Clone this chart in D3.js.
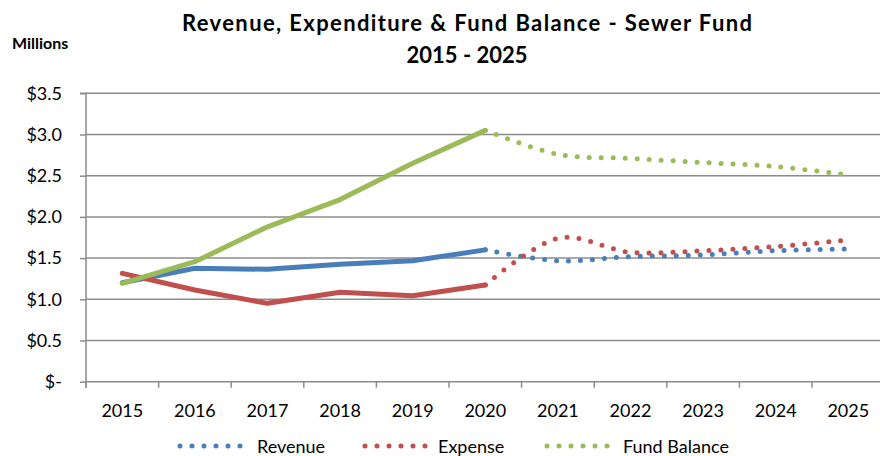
<!DOCTYPE html>
<html>
<head>
<meta charset="utf-8">
<script src="https://cdn.jsdelivr.net/npm/d3@7"></script>
<style>
  html, body { margin: 0; padding: 0; background: #fff; }
  svg { display: block; font-family: Lato, "Open Sans", sans-serif; }
</style>
</head>
<body>
<svg id="chart" width="880" height="456"></svg>
<script>
// Sewer fund figures, in millions of dollars
const years = ["2015", "2016", "2017", "2018", "2019", "2020", "2021", "2022", "2023", "2024", "2025"];
const revenue = [1.20, 1.376, 1.364, 1.425, 1.468, 1.60, 1.468, 1.517, 1.538, 1.59, 1.61];
const expense = [1.315, 1.113, 0.951, 1.085, 1.044, 1.174, 1.74, 1.57, 1.59, 1.64, 1.72];
const fundBalance = [1.194, 1.456, 1.88, 2.21, 2.65, 3.05, 2.76, 2.71, 2.66, 2.61, 2.51];
const lastActualYear = "2020";
const yTicks = [0, 0.5, 1.0, 1.5, 2.0, 2.5, 3.0, 3.5];

const seriesList = [
  { name: "Revenue", values: revenue, color: "#4A7EBB" },
  { name: "Expense", values: expense, color: "#C0504D" },
  { name: "Fund Balance", values: fundBalance, color: "#9BBB59" }
];

const svg = d3.select("#chart");
const plotLeft = 86, plotTop = 93.3, plotBottom = 381.7, band = 72.6;
const gridColor = "#8C8C8C";

const x = d3.scaleBand().domain(years).range([plotLeft, plotLeft + band * years.length]).paddingInner(0).paddingOuter(0);
const cx = d => x(d) + x.bandwidth() / 2;
const y = d3.scaleLinear().domain([0, 3.5]).range([plotBottom, plotTop]);

// Horizontal gridlines
svg.append("g").selectAll("line").data(yTicks.filter(v => v > 0)).join("line")
  .attr("x1", plotLeft).attr("x2", 880)
  .attr("y1", d => y(d)).attr("y2", d => y(d))
  .attr("stroke", gridColor).attr("stroke-width", 1.5);

// Y axis
const yAxis = d3.axisLeft(y).tickValues(yTicks).tickSize(6).tickPadding(6)
  .tickFormat(d => d === 0 ? "$-" : "$" + d3.format(".1f")(d));
const gy = svg.append("g").attr("transform", `translate(${plotLeft},0)`).call(yAxis);
gy.select(".domain").attr("stroke", gridColor).attr("stroke-width", 1.5)
  .attr("d", `M-6,${plotTop}H0V${plotBottom + 6}`);
gy.selectAll(".tick line").attr("stroke", gridColor).attr("stroke-width", 1.5);
gy.selectAll(".tick text").attr("font-size", 18).attr("fill", "#000")
  .attr("font-family", "Lato, sans-serif").attr("x", -24);

// X axis with ticks between categories
const gx = svg.append("g").attr("transform", `translate(0,${plotBottom})`);
gx.append("line").attr("x1", plotLeft).attr("x2", 880).attr("y1", 0).attr("y2", 0)
  .attr("stroke", gridColor).attr("stroke-width", 1.5);
gx.selectAll("line.tk").data(years.concat(["end"])).join("line").attr("class", "tk")
  .attr("x1", (d, i) => plotLeft + i * x.bandwidth()).attr("x2", (d, i) => plotLeft + i * x.bandwidth())
  .attr("y1", 0).attr("y2", 6).attr("stroke", gridColor).attr("stroke-width", 1.5);
gx.selectAll("text").data(years).join("text")
  .attr("x", d => cx(d)).attr("y", 35)
  .attr("text-anchor", "middle").attr("font-size", 18).attr("fill", "#000")
  .text(d => d);

// Lines: solid for actuals, dotted smoothed curve for projections
const split = years.indexOf(lastActualYear);
const solidLine = d3.line().x(d => cx(d.year)).y(d => y(d.value));
const dottedLine = d3.line().x(d => cx(d.year)).y(d => y(d.value)).curve(d3.curveCardinal.tension(0));

const linesG = svg.append("g");
seriesList.forEach(s => {
  const pts = years.map((yr, i) => ({ year: yr, value: s.values[i] }));
  linesG.append("path").datum(pts.slice(split))
    .attr("d", dottedLine).attr("fill", "none")
    .attr("stroke", s.color).attr("stroke-width", 5)
    .attr("stroke-linecap", "round").attr("stroke-dasharray", "0 12");
});
seriesList.forEach(s => {
  const pts = years.map((yr, i) => ({ year: yr, value: s.values[i] }));
  linesG.append("path").datum(pts.slice(0, split + 1))
    .attr("d", solidLine).attr("fill", "none")
    .attr("stroke", s.color).attr("stroke-width", 5)
    .attr("stroke-linecap", "round").attr("stroke-linejoin", "round");
});

// Title
const title = svg.append("text").attr("text-anchor", "middle").attr("font-weight", "bold")
  .attr("font-size", 22).attr("fill", "#000");
title.append("tspan").attr("x", 467).attr("y", 31)
  .attr("textLength", 570).attr("lengthAdjust", "spacing")
  .text("Revenue, Expenditure & Fund Balance - Sewer Fund");
title.append("tspan").attr("x", 467).attr("y", 63).text("2015 - 2025");

svg.append("text").attr("x", 12).attr("y", 49).attr("font-weight", "bold").attr("font-size", 16)
  .attr("fill", "#000").text("Millions");

// Legend
const legendX = [180, 365, 547];
const lg = svg.append("g").selectAll("g").data(seriesList).join("g")
  .attr("transform", (d, i) => `translate(${legendX[i]},446)`);
lg.append("line").attr("x1", 0).attr("x2", 61).attr("y1", 0).attr("y2", 0)
  .attr("stroke", d => d.color).attr("stroke-width", 5)
  .attr("stroke-linecap", "round").attr("stroke-dasharray", "0 12");
lg.append("text").attr("x", (d, i) => [77, 73, 76][i]).attr("y", 6.5).attr("font-size", 18).attr("fill", "#000")
  .text(d => d.name);
</script>
</body>
</html>
